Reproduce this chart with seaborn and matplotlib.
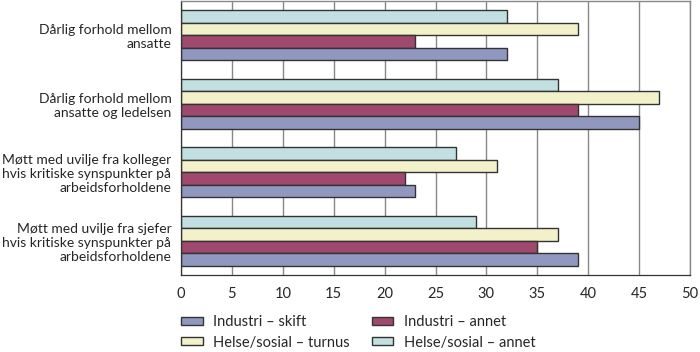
import pandas as pd
import numpy as np
import matplotlib
matplotlib.use("Agg")
import matplotlib.pyplot as plt
import seaborn as sns

categories = [
    "Dårlig forhold mellom\nansatte",
    "Dårlig forhold mellom\nansatte og ledelsen",
    "Møtt med uvilje fra kolleger\nhvis kritiske synspunkter på\narbeidsforholdene",
    "Møtt med uvilje fra sjefer\nhvis kritiske synspunkter på\narbeidsforholdene",
]
helse_annet = [32, 37, 27, 29]
helse_turnus = [39, 47, 31, 37]
industri_annet = [23, 39, 22, 35]
industri_skift = [32, 45, 23, 39]

series = ["Helse/sosial – annet", "Helse/sosial – turnus", "Industri – annet", "Industri – skift"]
colors = ["#BDE5E6", "#F9F7C3", "#AE3A6C", "#8892C8"]

df = pd.DataFrame({
    "kategori": categories * 4,
    "serie": np.repeat(series, 4),
    "verdi": helse_annet + helse_turnus + industri_annet + industri_skift,
})

sns.set_style("white")
plt.rcParams["font.family"] = ["Lato", "DejaVu Sans"]
fs = 10.5

fig = plt.figure(figsize=(7, 3.52), dpi=100)
ax = fig.add_axes([0.2586, 0.219, 0.7271, 0.778])

sns.barplot(data=df, y="kategori", x="verdi", hue="serie", order=categories,
            hue_order=series, palette=colors, width=0.73, orient="h",
            edgecolor="#333333", linewidth=1.0, ax=ax, legend=True)

ax.set_xlim(0, 50)
ax.set_ylim(3.5, -0.5)
ax.set_xticks(range(0, 51, 5))
ax.set_xlabel("")
ax.set_ylabel("")
ax.xaxis.grid(True, color="#888888", linewidth=1.0)
ax.set_axisbelow(True)

ax.set_yticks(range(4))
ax.set_yticklabels(categories, fontsize=10, linespacing=1.2)
ax.tick_params(axis="y", length=0, pad=7)
ax.set_yticks([0.5, 1.5, 2.5], minor=True)
ax.tick_params(axis="y", which="minor", length=5, color="#333333", width=0.8)
ax.tick_params(axis="x", length=5, color="#333333", width=0.8, labelsize=fs, pad=4)
ax.tick_params(axis="both", direction="out")

for s in ["top", "right"]:
    ax.spines[s].set_color("#888888")
    ax.spines[s].set_linewidth(1.0)
for s in ["left", "bottom"]:
    ax.spines[s].set_color("#333333")
    ax.spines[s].set_linewidth(0.9)

handles, labels = ax.get_legend_handles_labels()
hmap = dict(zip(labels, handles))
leg_order = ["Industri – skift", "Helse/sosial – turnus", "Industri – annet", "Helse/sosial – annet"]
ax.get_legend().remove()
fig.legend([hmap[l] for l in leg_order], leg_order, ncol=2, loc="upper left",
           bbox_to_anchor=(0.2586, 0.105), frameon=False, fontsize=fs,
           borderpad=0, borderaxespad=0,
           handlelength=1.5, handleheight=0.45, columnspacing=1.5,
           labelspacing=0.45, handletextpad=0.7)

fig.savefig("out.png", dpi=100)
